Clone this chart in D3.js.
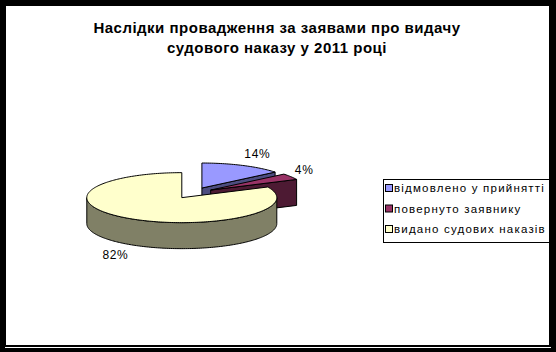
<!DOCTYPE html>
<html>
<head>
<meta charset="utf-8">
<script src="https://cdn.jsdelivr.net/npm/d3@7"></script>
<style>
  body { margin: 0; background: #000; }
  svg { display: block; font-family: "Liberation Sans", Arial, sans-serif; }
</style>
</head>
<body>
<svg width="556" height="352"></svg>
<script>
let titleLines = ['Наслідки провадження за заявами про видачу', 'судового наказу у 2011 році']
let categories = ['відмовлено у прийнятті', 'повернуто заявнику', 'видано судових наказів']
let shares = [0.14, 0.04, 0.82]
let topColors = ['#9999ff', '#993366', '#ffffcc']
let sideColors = ['#4d4d80', '#4d1a33', '#808066']

let svgWidth = 556
let svgHeight = 352

let svg = d3.select('svg')
  .attr('width', svgWidth)
  .attr('height', svgHeight)

// frame
svg.append('rect')
  .attr('x', 0).attr('y', 0)
  .attr('width', svgWidth).attr('height', svgHeight)
  .attr('fill', '#000')
svg.append('rect')
  .attr('x', 6).attr('y', 6)
  .attr('width', 543).attr('height', 339)
  .attr('fill', '#fff')
svg.append('line')
  .attr('x1', 5).attr('x2', 551)
  .attr('y1', 347.5).attr('y2', 347.5)
  .attr('stroke', '#fff')

// title
svg.append('g').selectAll('text')
  .data(titleLines)
  .join('text')
  .attr('x', 277)
  .attr('y', (d, i) => 33 + i * 20)
  .attr('text-anchor', 'middle')
  .attr('font-size', 15)
  .attr('font-weight', 'bold')
  .attr('letter-spacing', 0.5)
  .text(d => d)

// 3d pie
let cx = 193
let cy = 193
let rx = 95
let ry = 25
let depth = 26
let explode = 0.22

let pie = d3.pie().sort(null).value(d => d)
let arcs = pie(shares)

let line = d3.line()

function pt (c, a, dy) {
  return [c[0] + rx * Math.sin(a), c[1] - ry * Math.cos(a) + (dy || 0)]
}

function arcPts (c, a0, a1, dy) {
  let n = Math.max(2, Math.ceil(Math.abs(a1 - a0) / 0.02))
  return d3.range(n + 1).map(i => pt(c, a0 + (a1 - a0) * i / n, dy))
}

let g = svg.append('g')
  .attr('stroke', '#000')
  .attr('stroke-width', 1)
  .attr('stroke-linejoin', 'round')

arcs.forEach((d, i) => {
  let mid = (d.startAngle + d.endAngle) / 2
  let c = [cx + explode * rx * Math.sin(mid), cy - explode * ry * Math.cos(mid)]
  d.center = c
  d.mid = mid

  // radial face at end angle (faces the viewer when cos(end + 90deg) < 0)
  if (Math.cos(d.endAngle + Math.PI / 2) < -0.01) {
    let e = pt(c, d.endAngle)
    g.append('path')
      .attr('d', line([c, e, [e[0], e[1] + depth], [c[0], c[1] + depth]]) + 'Z')
      .attr('fill', sideColors[i])
  }
  // radial face at start angle
  if (Math.cos(d.startAngle - Math.PI / 2) < -0.01) {
    let s = pt(c, d.startAngle)
    g.append('path')
      .attr('d', line([c, s, [s[0], s[1] + depth], [c[0], c[1] + depth]]) + 'Z')
      .attr('fill', sideColors[i])
  }
  // outer wall for the front half
  let w0 = Math.max(d.startAngle, Math.PI / 2)
  let w1 = Math.min(d.endAngle, Math.PI * 1.5)
  if (w1 > w0) {
    let top = arcPts(c, w0, w1, 0)
    let bottom = arcPts(c, w1, w0, depth)
    g.append('path')
      .attr('d', line(top.concat(bottom)) + 'Z')
      .attr('fill', sideColors[i])
  }
  // top face
  g.append('path')
    .attr('d', line([c].concat(arcPts(c, d.startAngle, d.endAngle, 0))) + 'Z')
    .attr('fill', topColors[i])
})

// percent labels
let fmt = d3.format('.0%')
svg.append('g').selectAll('text')
  .data(arcs)
  .join('text')
  .attr('x', d => d.center[0] + 1.05 * rx * Math.sin(d.mid))
  .attr('y', d => {
    let y = d.center[1] - 1.5 * ry * Math.cos(d.mid) + 4
    return Math.cos(d.mid) < 0 ? y + depth : y
  })
  .attr('text-anchor', d => Math.sin(d.mid) >= 0 ? 'start' : 'end')
  .attr('font-size', 12)
  .attr('letter-spacing', 0.6)
  .text(d => fmt(d.data))

// legend
let legend = svg.append('g')
legend.append('rect')
  .attr('x', 383.5).attr('y', 179.5)
  .attr('width', 166).attr('height', 63)
  .attr('fill', '#fff')
  .attr('stroke', '#000')

let rows = legend.selectAll('g.row')
  .data(categories)
  .join('g')
  .attr('class', 'row')
  .attr('transform', (d, i) => `translate(385, ${188 + i * 20.5})`)

rows.append('rect')
  .attr('x', 0.5).attr('y', -3.5)
  .attr('width', 7).attr('height', 7)
  .attr('fill', (d, i) => topColors[i])
  .attr('stroke', '#000')

rows.append('text')
  .attr('x', 9)
  .attr('y', 4)
  .attr('font-size', 11.5)
  .attr('letter-spacing', 1.2)
  .text(d => d)
</script>
</body>
</html>
